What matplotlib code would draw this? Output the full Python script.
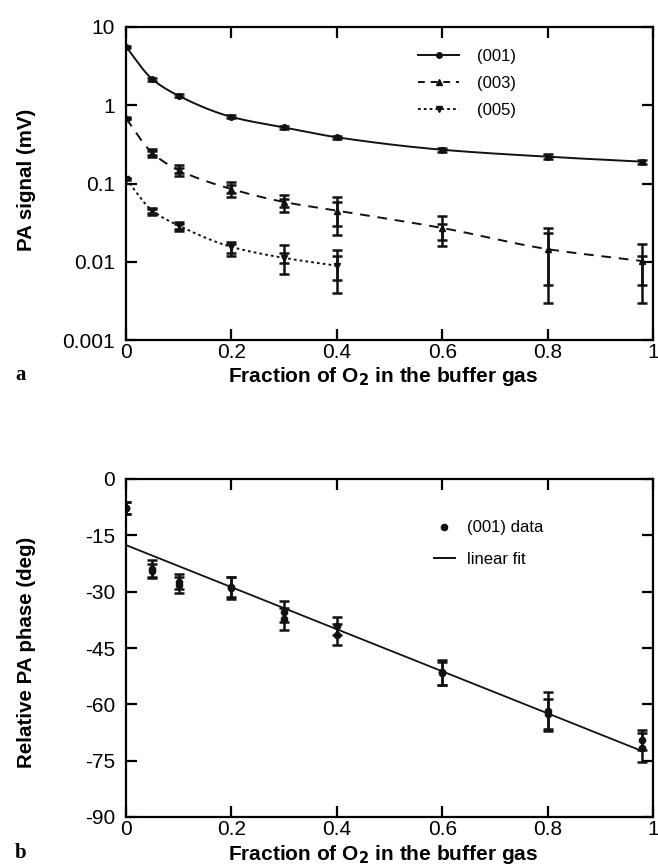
import numpy as np
import matplotlib
matplotlib.use("Agg")
import matplotlib.pyplot as plt
from matplotlib.lines import Line2D

plt.rcParams['font.family'] = ['Liberation Sans', 'DejaVu Sans']
plt.rcParams['axes.unicode_minus'] = False

# ---------------- data: panel a ----------------
frac = [0, 0.05, 0.1, 0.2, 0.3, 0.4, 0.6, 0.8, 0.98]
sig001 = [5.6, 2.15, 1.32, 0.71, 0.52, 0.39, 0.27, 0.22, 0.19]
sig001_hi = [5.8, 2.25, 1.38, 0.74, 0.54, 0.41, 0.285, 0.235, 0.20]
sig001_lo = [5.4, 2.05, 1.26, 0.68, 0.50, 0.37, 0.255, 0.205, 0.18]

sig003 = [0.68, 0.245, 0.148, 0.085, 0.058, 0.045, 0.027, 0.0145, 0.0102]
sig003_hi = [0.70, 0.28, 0.17, 0.105, 0.072, 0.068, 0.038, 0.027, 0.017]
sig003_lo = [0.66, 0.215, 0.125, 0.068, 0.043, 0.022, 0.016, 0.003, 0.003]
sig003_hi2 = [0.69, 0.26, 0.16, 0.095, 0.064, 0.058, 0.030, 0.023, 0.012]
sig003_lo2 = [0.67, 0.23, 0.135, 0.075, 0.050, 0.029, 0.019, 0.005, 0.005]

frac005 = [0, 0.05, 0.1, 0.2, 0.3, 0.4]
sig005 = [0.115, 0.045, 0.029, 0.0155, 0.0112, 0.0089]
sig005_hi = [0.118, 0.049, 0.032, 0.018, 0.0163, 0.014]
sig005_lo = [0.112, 0.040, 0.025, 0.012, 0.007, 0.004]
sig005_hi2 = [0.116, 0.047, 0.030, 0.017, 0.013, 0.012]
sig005_lo2 = [0.114, 0.042, 0.026, 0.013, 0.0095, 0.0058]

# ---------------- data: panel b ----------------
phase_x = [0, 0.05, 0.1, 0.2, 0.3, 0.4, 0.6, 0.8, 0.98]
phase_a = [-7.7, -23.9, -27.3, -28.8, -35.4, -39.2, -51.5, -61.9, -69.5]
phase_a_err = [1.5, 2.3, 2.1, 2.6, 2.8, 2.4, 3.3, 5.2, 2.7]
phase_b = [-7.7, -24.4, -28.2, -29.0, -37.3, -41.5, -51.7, -62.7, -71.5]
phase_b_err = [1.5, 1.9, 2.2, 2.9, 2.9, 2.8, 3.1, 4.0, 3.8]
fit_intercept = -17.6
fit_slope = -56.0
fit_range = [0, 0.98]

xticks = [0, 0.2, 0.4, 0.6, 0.8, 1]
xticklabels = ['0', '0.2', '0.4', '0.6', '0.8', '1']
yticks_a = [0.001, 0.01, 0.1, 1, 10]
yticklabels_a = ['0.001', '0.01', '0.1', '1', '10']
yticks_b = [0, -15, -30, -45, -60, -75, -90]
yticklabels_b = ['0', '-15', '-30', '-45', '-60', '-75', '-90']


def pchip(x, y, xn):
    x = np.asarray(x, float); y = np.asarray(y, float)
    h = np.diff(x); d = np.diff(y) / h
    m = np.zeros_like(y)
    for k in range(1, len(x) - 1):
        if d[k - 1] * d[k] > 0:
            w1 = 2 * h[k] + h[k - 1]; w2 = h[k] + 2 * h[k - 1]
            m[k] = (w1 + w2) / (w1 / d[k - 1] + w2 / d[k])
    m[0] = d[0]; m[-1] = d[-1]
    out = np.empty_like(xn)
    for i, xv in enumerate(xn):
        k = min(max(np.searchsorted(x, xv) - 1, 0), len(x) - 2)
        t = (xv - x[k]) / h[k]
        h00 = 2*t**3 - 3*t**2 + 1; h10 = t**3 - 2*t**2 + t
        h01 = -2*t**3 + 3*t**2; h11 = t**3 - t**2
        out[i] = h00*y[k] + h10*h[k]*m[k] + h01*y[k+1] + h11*h[k]*m[k+1]
    return out


def smooth_log(x, y):
    xn = np.linspace(x[0], x[-1], 300)
    return xn, 10 ** pchip(x, np.log10(y), xn)


W, H = 658, 866
fig = plt.figure(figsize=(W/100, H/100), dpi=100)
ax1 = fig.add_axes([126/W, 1-340/H, 527/W, 313/H])
ax2 = fig.add_axes([126/W, 1-817/H, 527/W, 338/H])

tick_fs = 15
xlab_fs = 15
ylab_fs = 14.8

for ax in (ax1, ax2):
    for s in ax.spines.values():
        s.set_linewidth(1.6)
    ax.tick_params(direction='in', length=8, width=1.6, top=True, right=True,
                   labelsize=tick_fs)
    ax.tick_params(axis='x', pad=2)
    ax.tick_params(axis='y', pad=8)
    ax.tick_params(which='minor', length=0)

# ---- panel a ----
ebkw = dict(fmt='none', ecolor='#111111', elinewidth=1.8, capsize=3.5, capthick=1.8)
xs, ys = smooth_log(frac, sig001)
ax1.plot(xs, ys, '-', color='#111111', lw=1.4)
ax1.plot(frac, sig001, 'o', color='#111111', ms=4)
ax1.errorbar(frac, sig001, yerr=[np.subtract(sig001, sig001_lo), np.subtract(sig001_hi, sig001)], **ebkw)

xs, ys = smooth_log(frac, sig003)
ax1.plot(xs, ys, color='#111111', lw=1.4, dashes=(5, 4))
ax1.plot(frac, sig003, '^', color='#111111', ms=5)
ax1.errorbar(frac, sig003, yerr=[np.subtract(sig003, sig003_lo), np.subtract(sig003_hi, sig003)], **ebkw)
ax1.errorbar(frac, sig003, yerr=[np.subtract(sig003, sig003_lo2), np.subtract(sig003_hi2, sig003)], **ebkw)

xs, ys = smooth_log(frac005, sig005)
ax1.plot(xs, ys, color='#111111', lw=1.4, dashes=(1.4, 1.6))
ax1.plot(frac005, sig005, 'v', color='#111111', ms=5)
ax1.errorbar(frac005, sig005, yerr=[np.subtract(sig005, sig005_lo), np.subtract(sig005_hi, sig005)], **ebkw)
ax1.errorbar(frac005, sig005, yerr=[np.subtract(sig005, sig005_lo2), np.subtract(sig005_hi2, sig005)], **ebkw)

ax1.set_yscale('log')
ax1.set_xlim(0, 1)
ax1.set_ylim(0.001, 10)
ax1.set_xticks(xticks)
ax1.set_xticklabels(xticklabels)
ax1.set_yticks(yticks_a)
ax1.set_yticklabels(yticklabels_a)
ax1.minorticks_off()

h1 = [Line2D([], [], color='#111111', lw=1.4, marker='o', ms=4),
      Line2D([], [], color='#111111', lw=1.4, dashes=(3.5, 3), marker='^', ms=4),
      Line2D([], [], color='#111111', lw=1.4, dashes=(1.4, 1.6), marker='v', ms=4)]
ax1.legend(h1, ['(001)', '(003)', '(005)'], loc='upper left', bbox_to_anchor=(0.526, 0.978),
           frameon=False, fontsize=12, handlelength=2.45, handletextpad=1.1, labelspacing=0.71)

# ---- panel b ----
ax2.plot(fit_range, [fit_intercept + fit_slope * v for v in fit_range], '-', color='#111111', lw=1.3)
ax2.errorbar(phase_x, phase_a, yerr=phase_a_err, **ebkw)
ax2.errorbar(phase_x, phase_b, yerr=phase_b_err, **ebkw)
ax2.plot(phase_x, phase_a, 'o', color='#111111', ms=4.5)
ax2.plot(phase_x, phase_b, 'o', color='#111111', ms=4.5)
ax2.set_xlim(0, 1)
ax2.set_ylim(-90, 0)
ax2.set_xticks(xticks)
ax2.set_xticklabels(xticklabels)
ax2.set_yticks(yticks_b)
ax2.set_yticklabels(yticklabels_b)

h2 = [Line2D([], [], color='#111111', lw=0, marker='o', ms=4.5),
      Line2D([], [], color='#111111', lw=1.4)]
ax2.legend(h2, ['(001) data', 'linear fit'], loc='upper left', bbox_to_anchor=(0.556, 0.922),
           frameon=False, fontsize=12, handlelength=1.25, handletextpad=0.7, labelspacing=1.0)

# ---- axis labels ----
xlab = 'Fraction of O$_\\mathbf{2}$ in the buffer gas'
fig.text(383/W, 1-377/H, xlab, fontsize=xlab_fs, fontweight='bold', ha='center', va='center')
fig.text(383/W, 1-855/H, xlab, fontsize=xlab_fs, fontweight='bold', ha='center', va='center')
fig.text(27/W, 1-180/H, 'PA signal (mV)', fontsize=ylab_fs, fontweight='bold',
         rotation=90, ha='center', va='center')
fig.text(27/W, 1-652/H, 'Relative PA phase (deg)', fontsize=ylab_fs, fontweight='bold',
         rotation=90, ha='center', va='center')

fig.text(21/W, 1-375/H, 'a', fontsize=15, fontweight='bold', family='Liberation Serif',
         ha='center', va='center')
fig.text(21/W, 1-853/H, 'b', fontsize=15, fontweight='bold', family='Liberation Serif',
         ha='center', va='center')

fig.savefig('out.png', dpi=100)
